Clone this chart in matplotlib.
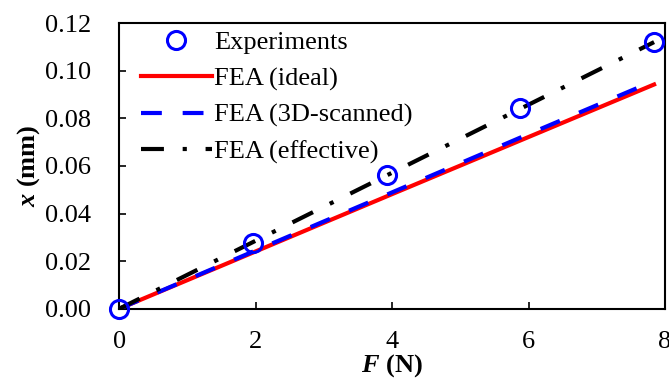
import matplotlib
matplotlib.use("Agg")
import matplotlib.pyplot as plt

plt.rcParams['font.family'] = 'Liberation Serif'
plt.rcParams['mathtext.fontset'] = 'custom'
plt.rcParams['mathtext.rm'] = 'Liberation Serif'
plt.rcParams['mathtext.it'] = 'Liberation Serif:italic'
plt.rcParams['mathtext.bf'] = 'Liberation Serif:bold'
plt.rcParams['mathtext.bfit'] = 'Liberation Serif:italic:bold'

# data
force = [0, 1.96, 3.92, 5.88, 7.84]
x_exp = [0, 0.0278, 0.0563, 0.0843, 0.1121]
x_ideal = [0, 0.0236, 0.0472, 0.0707, 0.0942]
x_scanned = [0, 0.0240, 0.0479, 0.0719, 0.0957]
x_effective = [0, 0.0280, 0.0560, 0.0840, 0.1120]

xticks = [0, 2, 4, 6, 8]
yticks = [0, 0.02, 0.04, 0.06, 0.08, 0.10, 0.12]

fs = 19

fig = plt.figure(figsize=(6.69, 3.78), dpi=100)
ax = fig.add_axes([0.178, 0.183, 0.816, 0.756])

ax.plot(force, x_ideal, color='#ff0000', lw=3, label='FEA (ideal)', zorder=2)
ax.plot(force, x_scanned, color='#0000ff', lw=3, ls=(0, (5, 5)),
        label='FEA (3D-scanned)', zorder=3)
ax.plot(force, x_effective, color='black', lw=3, ls=(0, (5.5, 4.5, 1, 4.5)),
        label='FEA (effective)', zorder=4)
ax.plot(force, x_exp, ls='none', marker='o', ms=13, mfc='none', mec='#0000ff',
        mew=2.2, label='Experiments', zorder=5, clip_on=False)

ax.set_xlim(0, 8)
ax.set_ylim(0, 0.12)
ax.set_xticks(xticks)
ax.set_yticks(yticks)
ax.set_xticklabels([str(t) for t in xticks])
ax.set_yticklabels(['%.2f' % t for t in yticks])
ax.tick_params(direction='in', length=5, width=1.2, labelsize=fs, colors='black')
ax.tick_params(axis='x', pad=16)
ax.tick_params(axis='y', pad=20)
for s in ax.spines.values():
    s.set_linewidth(1.5)

ax.set_xlabel(r'$\mathbfit{F}$ (N)', fontsize=fs, fontweight='bold', labelpad=-1)
ax.set_ylabel(r'$\mathbfit{x}$ (mm)', fontsize=fs, fontweight='bold', labelpad=2)

h, l = ax.get_legend_handles_labels()
order = [3, 0, 1, 2]
ax.legend([h[i] for i in order], [l[i] for i in order], loc='upper left',
          frameon=False, fontsize=fs, handlelength=2.7, handletextpad=0.1,
          labelspacing=0.48, borderaxespad=0.0, bbox_to_anchor=(0.02, 1.01))

fig.savefig('out.png', dpi=100)
